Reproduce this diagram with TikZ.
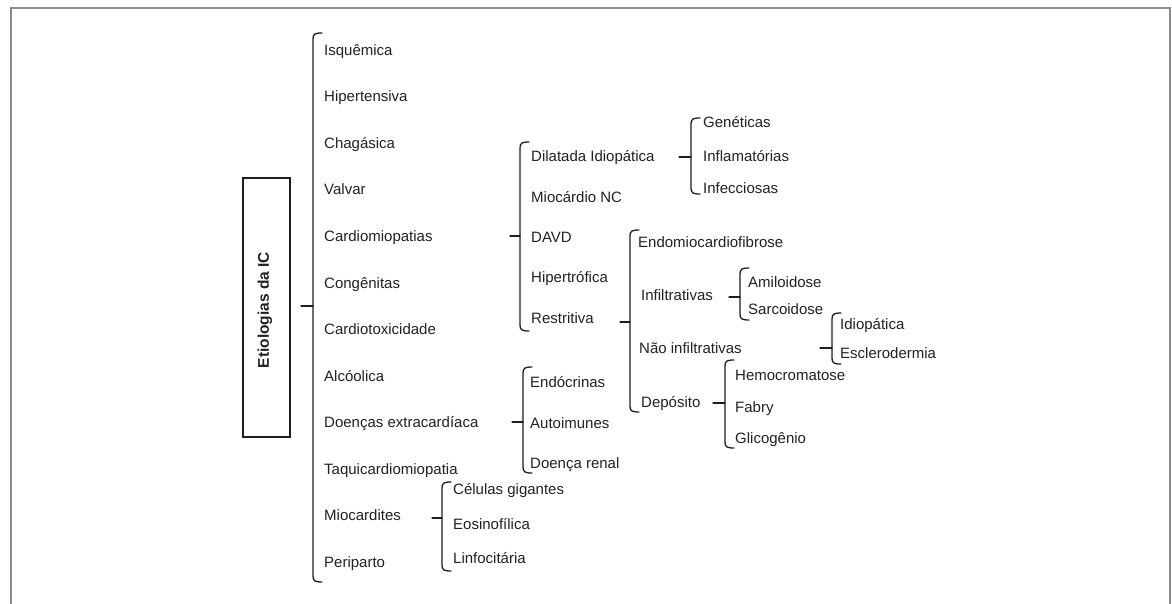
\documentclass[tikz,border=0pt]{standalone}
\usepackage{fontspec}
\setmainfont{Liberation Sans}
\definecolor{txt}{HTML}{222222}
\definecolor{ln}{HTML}{1E1E1E}
\definecolor{frm}{HTML}{8C8C8C}
\tikzset{
  lbl/.style={anchor=base west, inner sep=0pt, font=\fontsize{15}{18}\selectfont, text=txt},
  brc/.style={draw=ln, line width=1.3pt, line cap=round},
  rootbox/.style={draw=ln, line width=1.4pt, minimum width=47pt, minimum height=259pt, inner sep=0pt},
}
% \brk{x}{top}{bottom}{tip y}{tip length}
\newcommand\brk[5]{%
  \draw[brc] ({#1+9},#2) .. controls ({#1+2},#2) and (#1,{#2+1}) .. (#1,{#2+6})
    -- (#1,{#3-6}) .. controls (#1,{#3-1}) and ({#1+2},#3) .. ({#1+9},#3);
  \draw[brc] ({#1-#5},#4) -- (#1,#4);}
\begin{document}
\begin{tikzpicture}[x=1pt,y=-1pt]
\useasboundingbox (0,0) rectangle (1172,604);
\fill[white] (0,0) rectangle (1172,604);
\draw[frm, line width=1.8pt] (11,610) -- (11,8) -- (1170,8) -- (1170,610);

% root
\node[rootbox] (root) at (266.5,307.5) {};
\node[rotate=90, inner sep=0pt, font=\fontsize{15.5}{18}\selectfont\bfseries, text=txt] (roottxt) at (265,310) {Etiologias da IC};

% main list
\brk{313}{33}{582}{306}{12}
\node[lbl] (isq) at (324,55.5) {Isquêmica};
\node[lbl] (hip) at (324,102) {Hipertensiva};
\node[lbl] (cha) at (324,148.5) {Chagásica};
\node[lbl] (val) at (324,195) {Valvar};
\node[lbl] (car) at (324,241.5) {Cardiomiopatias};
\node[lbl] (con) at (324,288) {Congênitas};
\node[lbl] (tox) at (324,334.5) {Cardiotoxicidade};
\node[lbl] (alc) at (324,381) {Alcóolica};
\node[lbl] (doe) at (324,427.5) {Doenças extracardíaca};
\node[lbl] (taq) at (324,474) {Taquicardiomiopatia};
\node[lbl] (mio) at (324,520.5) {Miocardites};
\node[lbl] (per) at (324,567) {Periparto};

% cardiomiopatias
\brk{520}{142}{331}{236}{10}
\node[lbl] (dil) at (531,161.5) {Dilatada Idiopática};
\node[lbl] (nc) at (531,202.5) {Miocárdio NC};
\node[lbl] (davd) at (531,242.5) {DAVD};
\node[lbl] (hpt) at (531,282.5) {Hipertrófica};
\node[lbl] (res) at (531,323.5) {Restritiva};

% dilatada
\brk{691}{118}{194}{157}{12}
\node[lbl] (gen) at (703,127.5) {Genéticas};
\node[lbl] (inf) at (703,161.5) {Inflamatórias};
\node[lbl] (ifc) at (703,193.5) {Infecciosas};

% restritiva
\brk{630}{230}{412}{322}{10}
\node[lbl] (endo) at (638,247.5) {Endomiocardiofibrose};
\node[lbl] (ifl) at (641,300.5) {Infiltrativas};
\node[lbl] (nif) at (639,353.5) {Não infiltrativas};
\node[lbl] (dep) at (641,407.5) {Depósito};

% infiltrativas
\brk{740}{268}{320}{297}{11}
\node[lbl] (ami) at (748,287.5) {Amiloidose};
\node[lbl] (sar) at (748,314.5) {Sarcoidose};

% nao infiltrativas
\brk{832}{313}{364}{348}{12}
\node[lbl] (idi) at (840,329.5) {Idiopática};
\node[lbl] (esc) at (840,358.5) {Esclerodermia};

% deposito
\brk{725}{360}{448}{403}{12}
\node[lbl] (hem) at (735,380.5) {Hemocromatose};
\node[lbl] (fab) at (735,412.5) {Fabry};
\node[lbl] (gli) at (735,443.5) {Glicogênio};

% doencas extracardiacas
\brk{523}{367}{473}{422}{11}
\node[lbl] (endc) at (530,387.5) {Endócrinas};
\node[lbl] (aut) at (530,428.5) {Autoimunes};
\node[lbl] (ren) at (530,468.5) {Doença renal};

% miocardites
\brk{442}{482}{571}{518}{10}
\node[lbl] (cel) at (453,494.5) {Células gigantes};
\node[lbl] (eos) at (453,529.5) {Eosinofílica};
\node[lbl] (lin) at (453,563.5) {Linfocitária};
\end{tikzpicture}
\end{document}
